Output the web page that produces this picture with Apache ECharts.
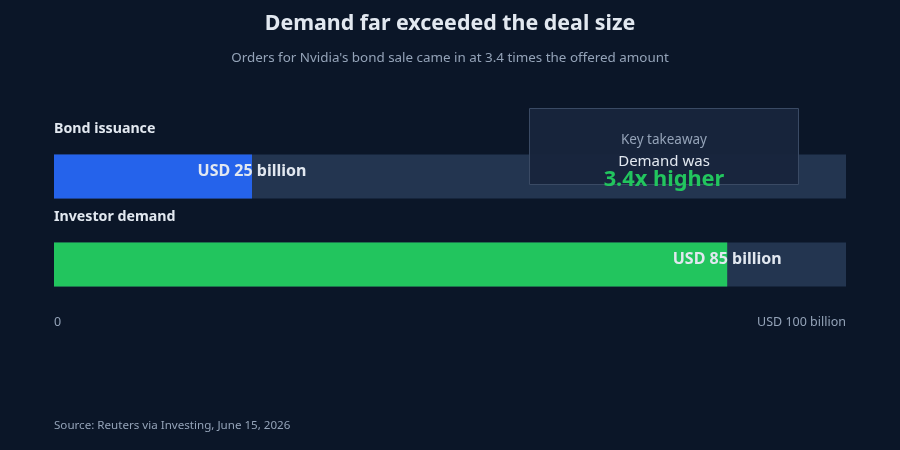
<!DOCTYPE html>
<html>
<head>
<meta charset="utf-8">
<script src="https://cdn.jsdelivr.net/npm/echarts@6/dist/echarts.min.js"></script>
<style>
html,body{margin:0;padding:0;background:#0b1628;}
#c{width:900px;height:450px;}
</style>
</head>
<body>
<div id="c"></div>
<script>
const categories = ['Bond issuance', 'Investor demand'];
const values = [25, 85];
const barColors = ['#2563eb', '#22c55e'];
const barLabels = ['USD 25 billion', 'USD 85 billion'];
const axisMin = 0;
const axisMax = 100;
const tickLabels = {0: '0', 100: 'USD 100 billion'};

const FONT = '"Noto Sans", "Open Sans", sans-serif';
const chart = echarts.init(document.getElementById('c'), null, {renderer: 'canvas'});
chart.setOption({
  backgroundColor: '#0b1628',
  animation: false,
  title: [{
    text: 'Demand far exceeded the deal size',
    left: 'center', top: 8,
    textStyle: {color: '#e2e8f0', fontSize: 21.4, fontWeight: 'bold', fontFamily: FONT}
  }, {
    text: "Orders for Nvidia's bond sale came in at 3.4 times the offered amount",
    left: 'center', top: 47,
    textStyle: {color: '#94a3b8', fontSize: 13.4, fontWeight: 'normal', fontFamily: FONT}
  }, {
    text: 'Source: Reuters via Investing, June 15, 2026',
    left: 54, top: 420, padding: 0,
    textStyle: {color: '#94a3b8', fontSize: 11.6, fontWeight: 'normal', fontFamily: FONT}
  }],
  grid: {left: 54, right: 54, top: 132.5, height: 176, containLabel: false},
  xAxis: {
    type: 'value', min: axisMin, max: axisMax, interval: 100,
    splitLine: {show: false}, axisLine: {show: false}, axisTick: {show: false},
    axisLabel: {
      color: '#94a3b8', fontSize: 12.5, fontFamily: FONT, margin: 7,
      alignMinLabel: 'left', alignMaxLabel: 'right',
      formatter: v => tickLabels[v] !== undefined ? tickLabels[v] : ''
    }
  },
  yAxis: {
    type: 'category', data: categories, inverse: true,
    axisLine: {show: false}, axisTick: {show: false}, splitLine: {show: false},
    axisLabel: {show: false}
  },
  series: [{
    type: 'bar',
    barWidth: 44,
    showBackground: true,
    backgroundStyle: {color: '#233550'},
    data: values.map((v, i) => ({
      value: v,
      itemStyle: {color: barColors[i]},
      label: {formatter: barLabels[i]}
    })),
    label: {
      show: true,
      position: ['100%', '50%'],
      offset: [0, -5],
      align: 'center', verticalAlign: 'middle',
      color: '#e2e8f0', fontSize: 16, fontWeight: 'bold', fontFamily: FONT
    },
    z: 2
  }, {
    type: 'bar',
    barWidth: 44,
    barGap: '-100%',
    silent: true,
    itemStyle: {color: 'rgba(0,0,0,0)'},
    data: values,
    label: {
      show: true,
      formatter: '{b}',
      position: [0, -26],
      align: 'left', verticalAlign: 'middle',
      color: '#e2e8f0', fontSize: 14.2, fontWeight: 'bold', fontFamily: FONT
    },
    z: 1
  }],
  graphic: [{
    type: 'rect', zlevel: 1, z: 100,
    shape: {x: 529.5, y: 108.5, width: 269, height: 76},
    style: {fill: 'rgba(24,37,60,0.95)', stroke: '#3a4a64', lineWidth: 1}
  }, {
    type: 'text', zlevel: 1, z: 101, x: 664, y: 140,
    style: {text: 'Key takeaway', fill: '#94a3b8', font: '13.5px ' + FONT, textAlign: 'center', textVerticalAlign: 'middle'}
  }, {
    type: 'text', zlevel: 1, z: 101, x: 664, y: 162,
    style: {text: 'Demand was', fill: '#e2e8f0', font: '15px ' + FONT, textAlign: 'center', textVerticalAlign: 'middle'}
  }, {
    type: 'text', zlevel: 1, z: 101, x: 664, y: 180,
    style: {text: '3.4x higher', fill: '#22c55e', font: 'bold 21.8px ' + FONT, textAlign: 'center', textVerticalAlign: 'middle'}
  }]
});
</script>
</body>
</html>
